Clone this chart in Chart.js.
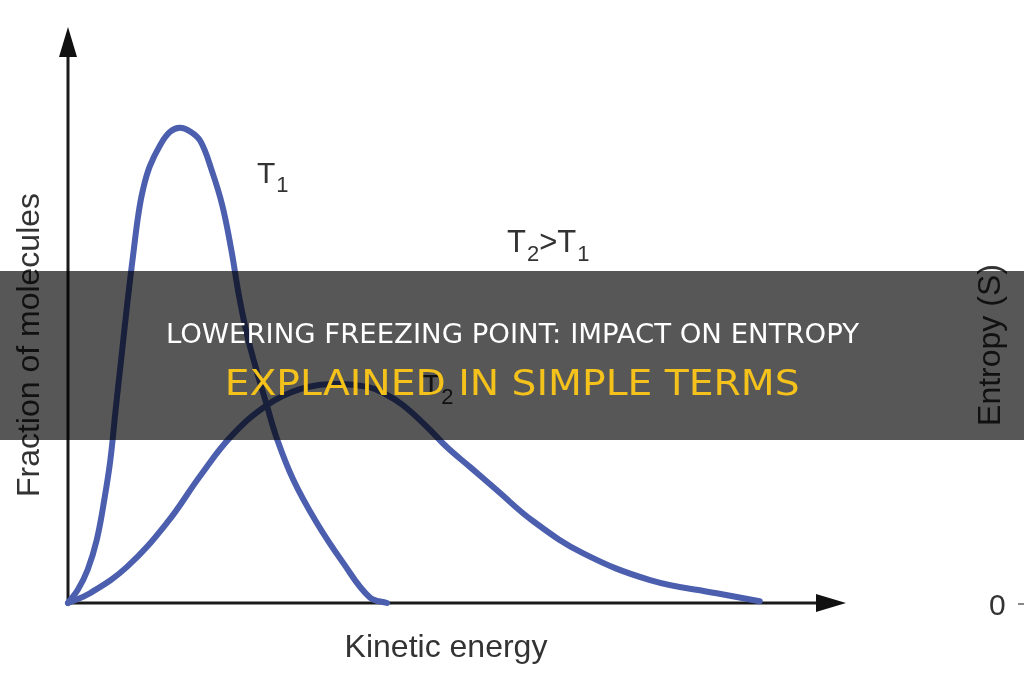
<!DOCTYPE html>
<html>
<head>
<meta charset="utf-8">
<title>Lowering freezing point: impact on entropy</title>
<script src="https://cdn.jsdelivr.net/npm/chart.js@4.4.1/dist/chart.umd.min.js"></script>
<style>
    html, body { margin: 0; padding: 0; background: #fff; overflow: hidden; }
    #wrap { position: relative; width: 1024px; height: 680px; }
    #chart { position: absolute; left: 0; top: 0; }
    .lbl { position: absolute; font-family: "Liberation Sans", Arial, sans-serif; color: #333; white-space: nowrap; line-height: 1; }
    .lbl .s { font-size: 22px; position: relative; top: 9px; margin-left: 1px; }
    .band { position: absolute; left: 0; top: 271px; width: 1024px; height: 169px; background: rgba(0, 0, 0, 0.66); }
    .head { position: absolute; left: 0; width: 1024px; text-align: center; white-space: nowrap;
            font-family: "Liberation Sans Narrow", "DejaVu Sans Condensed", Roboto, sans-serif; }
    .head span { display: inline-block; transform-origin: center center; }
</style>
</head>
<body>
<div id="wrap">
    <canvas id="chart" width="1024" height="680"></canvas>

    <div class="lbl" style="left:257px; top:158px; font-size:30px;">T<span class="s">1</span></div>
    <div class="lbl" style="left:507px; top:226px; font-size:31px;">T<span class="s">2</span>&gt;T<span class="s">1</span></div>
    <div class="lbl" style="left:422px; top:370px; font-size:30px;">T<span class="s">2</span></div>

    <div class="lbl" style="left:889px; top:329px; width:200px; height:32px; line-height:32px; font-size:32px; text-align:center; transform:rotate(-90deg);">Entropy (S)</div>
    <div class="lbl" style="left:989px; top:590px; font-size:30px;">0</div>
    <div style="position:absolute; left:1018px; top:603px; width:6px; height:2px; background:#888;"></div>

    <div class="band"></div>
    <div class="head" style="top:321px; font-size:26px; line-height:26px; color:#fff;"><span id="head-main">LOWERING FREEZING POINT: IMPACT ON ENTROPY</span></div>
    <div class="head" style="top:365px; font-size:36px; line-height:36px; color:#f5c21b;"><span id="head-sub">EXPLAINED IN SIMPLE TERMS</span></div>
</div>

<script>
// Curve T1 (lower temperature)
const t1Energy = [0, 1.3, 2.6, 3.8, 4.8, 5.6, 6.3, 7.1, 7.9, 8.7, 9.3, 9.9, 10.8, 12.2, 13.5, 14.8, 16.1, 17.5, 19.0, 20.4, 21.6, 22.6, 23.7, 25.0, 26.3, 27.6, 29.8, 32.9, 36.4, 39.9, 42.2];
const t1Fraction = [0, 2.3, 5.8, 11.0, 18.0, 24.9, 33.7, 43.3, 52.9, 61.6, 67.7, 72.0, 76.1, 79.9, 82.2, 82.9, 82.3, 80.6, 75.5, 69.4, 61.6, 53.7, 46.7, 40.3, 34.5, 28.8, 21.5, 14.0, 7.0, 1.0, 0];

// Curve T2 (higher temperature)
const t2Energy = [0, 2.9, 7.8, 13.1, 17.5, 21.6, 26.3, 30.7, 35.3, 39.6, 41.9, 44.3, 47.5, 50.1, 53.2, 56.7, 61.5, 68.1, 77.0, 85.8, 91.5];
const t2Fraction = [0, 1.7, 6.3, 14.0, 22.2, 29.1, 34.5, 37.3, 38.2, 37.7, 36.5, 34.5, 30.7, 27.2, 23.7, 19.7, 14.3, 8.7, 4.0, 1.7, 0.3];

// Axis titles
const xTitle = 'Kinetic energy';
const yTitle = 'Fraction of molecules';

const lineColor = '#4b5fae';

function toPoints(xs, ys) {
    return xs.map((x, i) => ({ x: x, y: ys[i] }));
}

// Axis lines with arrow heads
const arrowAxes = {
    id: 'arrowAxes',
    beforeDatasetsDraw(chart) {
        const { ctx, chartArea } = chart;
        const left = chartArea.left, bottom = chartArea.bottom;
        const yTip = chartArea.top - 60;
        const xTip = chartArea.right + 22;
        ctx.save();
        ctx.strokeStyle = '#1a1a1a';
        ctx.fillStyle = '#111';
        ctx.lineWidth = 3;
        ctx.beginPath();
        ctx.moveTo(left, bottom);
        ctx.lineTo(left, yTip + 28);
        ctx.moveTo(left, bottom);
        ctx.lineTo(xTip - 28, bottom);
        ctx.stroke();

        ctx.beginPath();
        ctx.moveTo(left, yTip);
        ctx.lineTo(left - 9, yTip + 30);
        ctx.lineTo(left + 9, yTip + 30);
        ctx.closePath();
        ctx.fill();

        ctx.beginPath();
        ctx.moveTo(xTip, bottom);
        ctx.lineTo(xTip - 30, bottom - 9);
        ctx.lineTo(xTip - 30, bottom + 9);
        ctx.closePath();
        ctx.fill();
        ctx.restore();
    }
};

function curve(label, xs, ys) {
    return {
        label: label,
        data: toPoints(xs, ys),
        borderColor: lineColor,
        borderWidth: 6,
        pointRadius: 0,
        fill: false,
        tension: 0.4,
        borderCapStyle: 'round',
        borderJoinStyle: 'round',
        clip: false
    };
}

const ctx = document.getElementById('chart').getContext('2d');

new Chart(ctx, {
    type: 'line',
    data: {
        datasets: [
            curve('T1', t1Energy, t1Fraction),
            curve('T2', t2Energy, t2Fraction)
        ]
    },
    options: {
        responsive: false,
        animation: false,
        layout: {
            padding: { top: 87, right: 200, bottom: 0, left: 0 }
        },
        plugins: {
            legend: { display: false },
            tooltip: { enabled: false }
        },
        scales: {
            x: {
                type: 'linear',
                min: 0,
                max: 100,
                grid: { display: false },
                border: { display: false },
                ticks: { display: false },
                title: {
                    display: true,
                    text: xTitle,
                    color: '#333',
                    font: { family: '"Liberation Sans", Arial, sans-serif', size: 32 },
                    padding: { top: 0, bottom: 13 }
                },
                afterFit(scale) { scale.height = 77; }
            },
            y: {
                min: 0,
                max: 90,
                grid: { display: false },
                border: { display: false },
                ticks: { display: false },
                title: {
                    display: true,
                    text: yTitle,
                    color: '#333',
                    font: { family: '"Liberation Sans", Arial, sans-serif', size: 32 },
                    padding: { top: 11, bottom: 0 }
                },
                afterFit(scale) { scale.width = 68; }
            }
        }
    },
    plugins: [arrowAxes]
});

// Fit the heading lines to their widths
function fitWidth(id, target) {
    const el = document.getElementById(id);
    const w = el.getBoundingClientRect().width;
    if (w > 0) el.style.transform = 'scaleX(' + (target / w) + ')';
}
fitWidth('head-main', 693);
fitWidth('head-sub', 575);
</script>
</body>
</html>
